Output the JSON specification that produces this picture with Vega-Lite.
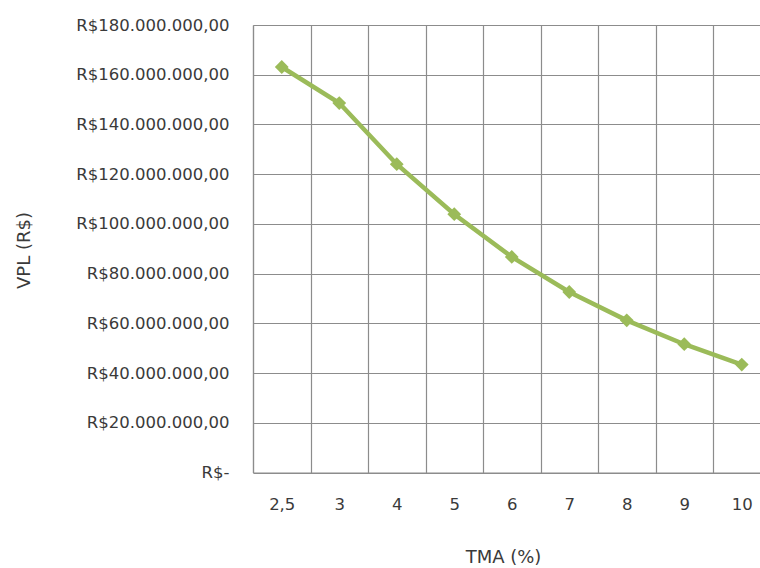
{
  "$schema": "https://vega.github.io/schema/vega-lite/v6.json",
  "autosize": {"type": "none"},
  "padding": {"left": 253, "top": 25, "right": 0, "bottom": 95},
  "width": 507,
  "height": 447.5,
  "background": "white",
  "data": {
    "values": [
      {"tma": "2,5", "vpl": 163100000},
      {"tma": "3", "vpl": 148600000},
      {"tma": "4", "vpl": 124000000},
      {"tma": "5", "vpl": 103900000},
      {"tma": "6", "vpl": 86700000},
      {"tma": "7", "vpl": 72600000},
      {"tma": "8", "vpl": 61200000},
      {"tma": "9", "vpl": 51600000},
      {"tma": "10", "vpl": 43400000}
    ]
  },
  "encoding": {
    "x": {
      "field": "tma",
      "type": "nominal",
      "sort": null,
      "scale": {"type": "band", "domain": ["2,5", "3", "4", "5", "6", "7", "8", "9", "10"], "range": [0, 517.5], "paddingInner": 0, "paddingOuter": 0},
      "axis": {
        "title": "TMA (%)",
        "labelAngle": 0,
        "ticks": false,
        "grid": true,
        "tickBand": "extent",
        "gridColor": "#8c8c8c",
        "gridWidth": 1.2,
        "gridOpacity": 1,
        "domainColor": "#8c8c8c",
        "domainWidth": 1.2,
        "labelFont": "DejaVu Sans",
        "labelFontSize": 16.5,
        "labelColor": "#3a3a3a",
        "labelPadding": 24,
        "titleFont": "DejaVu Sans",
        "titleFontSize": 18,
        "titleFontWeight": "normal",
        "titleColor": "#3a3a3a",
        "titleX": 250,
        "titleY": 90,
        "titleBaseline": "alphabetic",
        "titleAnchor": "middle"
      }
    },
    "y": {
      "field": "vpl",
      "type": "quantitative",
      "scale": {"domain": [0, 180000000], "nice": false, "zero": true},
      "axis": {
        "title": "VPL (R$)",
        "values": [0, 20000000, 40000000, 60000000, 80000000, 100000000, 120000000, 140000000, 160000000, 180000000],
        "labelExpr": "datum.value == 0 ? 'R$-' : 'R$' + replace(replace(replace(format(datum.value, ',.2f'), /,/g, '#'), /\\./g, ','), /#/g, '.')",
        "ticks": false,
        "grid": true,
        "gridColor": "#8c8c8c",
        "gridWidth": 1.2,
        "gridOpacity": 1,
        "domainColor": "#8c8c8c",
        "domainWidth": 1.2,
        "labelFont": "DejaVu Sans",
        "labelFontSize": 16.5,
        "labelColor": "#3a3a3a",
        "labelPadding": 24,
        "titleFont": "DejaVu Sans",
        "titleFontSize": 18,
        "titleFontWeight": "normal",
        "titleColor": "#3a3a3a",
        "titleAngle": -90,
        "titleX": -224,
        "titleY": 225,
        "titleAlign": "center",
        "titleBaseline": "alphabetic"
      }
    }
  },
  "layer": [
    {"mark": {"type": "line", "color": "#9BBB59", "strokeWidth": 4.5}},
    {"mark": {"type": "point", "shape": "diamond", "filled": true, "size": 190, "color": "#9BBB59", "opacity": 1}}
  ],
  "config": {"view": {"stroke": null}}
}
